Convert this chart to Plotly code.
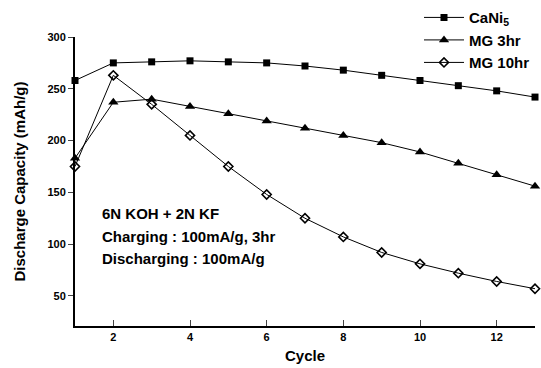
import plotly.graph_objects as go

cycles = list(range(1, 14))
cani5 = [258, 275, 276, 277, 276, 275, 272, 268, 263, 258, 253, 248, 242]
mg3 = [183, 237, 240, 233, 226, 219, 212, 205, 198, 189, 178, 167, 156]
mg10 = [175, 263, 235, 205, 175, 148, 125, 107, 92, 81, 72, 64, 57]
x_ticks = [2, 4, 6, 8, 10, 12]
y_ticks = [50, 100, 150, 200, 250, 300]
note_lines = ["6N KOH + 2N KF", "Charging : 100mA/g, 3hr", "Discharging : 100mA/g"]

FONT = "Liberation Sans, Arial, sans-serif"
fig = go.Figure()
fig.add_trace(go.Scatter(x=cycles, y=cani5, mode="lines+markers", name="CaNi<sub>5</sub>",
                         cliponaxis=False,
                         line=dict(color="black", width=1),
                         marker=dict(symbol="square", size=7, color="black")))
fig.add_trace(go.Scatter(x=cycles, y=mg3, mode="lines+markers", name="MG 3hr",
                         cliponaxis=False,
                         line=dict(color="black", width=1),
                         marker=dict(symbol="triangle-up", size=9, color="black")))
fig.add_trace(go.Scatter(x=cycles, y=mg10, mode="lines+markers", name="MG 10hr",
                         cliponaxis=False,
                         line=dict(color="black", width=1),
                         marker=dict(symbol="diamond-open", size=7, color="black",
                                     line=dict(width=1.6, color="black"))))

for i, line in enumerate(note_lines):
    fig.add_annotation(x=0.055, y=0.388 - i * 0.078, xref="paper", yref="paper",
                       xanchor="left", yanchor="middle",
                       text=line, showarrow=False, align="left",
                       font=dict(family=FONT, size=15, color="black", weight="bold"))

fig.update_layout(
    width=541, height=368,
    margin=dict(l=75, r=6, t=37, b=42, autoexpand=False),
    paper_bgcolor="white", plot_bgcolor="white",
    font=dict(family=FONT, color="black", weight="bold"),
    showlegend=True,
    legend=dict(x=1.0, xanchor="right", y=1.124, yanchor="top",
                bgcolor="rgba(0,0,0,0)", font=dict(size=15, family=FONT, weight="bold"),
                tracegroupgap=0, itemwidth=40),
    xaxis=dict(range=[1, 13], tickvals=x_ticks, ticks="inside", ticklen=6,
               showline=True, linecolor="black", linewidth=2, showgrid=False, zeroline=False,
               tickfont=dict(size=11, weight="bold"),
               title=dict(text="Cycle", font=dict(size=15, weight="bold"), standoff=8)),
    yaxis=dict(range=[21, 300], tickvals=y_ticks, ticks="outside", ticklen=5,
               showline=True, linecolor="black", linewidth=2, showgrid=False, zeroline=False,
               tickfont=dict(size=11, weight="bold"),
               title=dict(text="Discharge Capacity (mAh/g)", font=dict(size=15, weight="bold"), standoff=18)),
)
fig.write_html("out.html")
